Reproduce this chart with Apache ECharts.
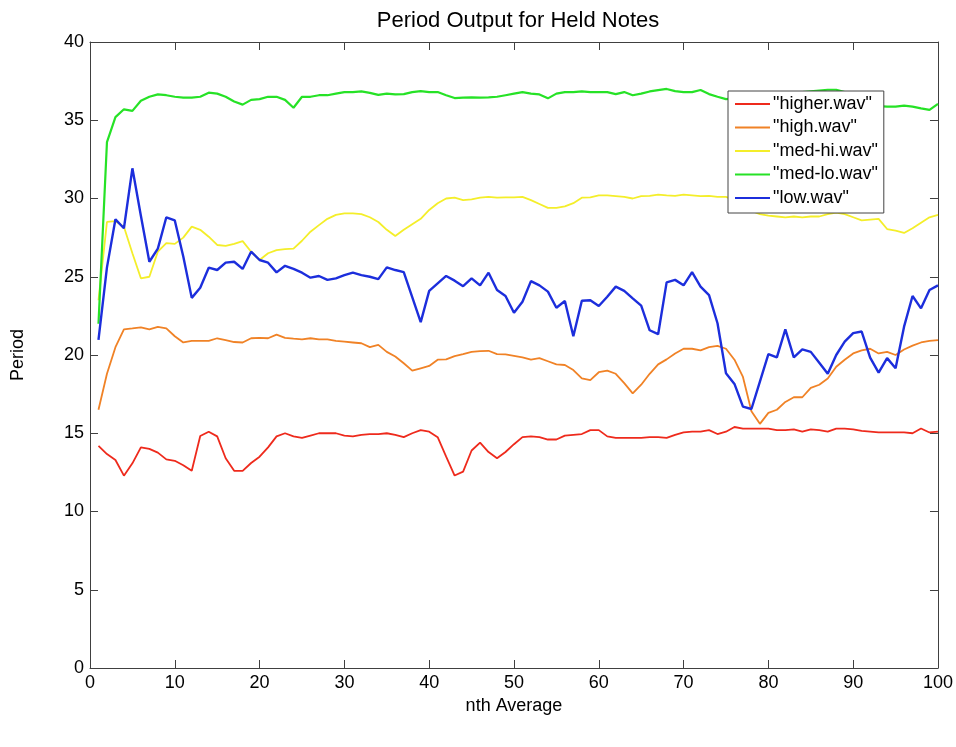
<!DOCTYPE html>
<html>
<head>
<meta charset="utf-8">
<script src="https://cdn.jsdelivr.net/npm/echarts@6/dist/echarts.min.js"></script>
<style>
html,body{margin:0;padding:0;background:#fff;}
#chart{width:956px;height:747px;}
</style>
</head>
<body>
<div id="chart"></div>
<script>
var xIndex = [1,2,3,4,5,6,7,8,9,10,11,12,13,14,15,16,17,18,19,20,21,22,23,24,25,26,27,28,29,30,31,32,33,34,35,36,37,38,39,40,41,42,43,44,45,46,47,48,49,50,51,52,53,54,55,56,57,58,59,60,61,62,63,64,65,66,67,68,69,70,71,72,73,74,75,76,77,78,79,80,81,82,83,84,85,86,87,88,89,90,91,92,93,94,95,96,97,98,99,100];

var higher = [14.19,13.67,13.29,12.29,13.08,14.1,14.0,13.76,13.33,13.24,12.96,12.6,14.82,15.1,14.8,13.4,12.6,12.6,13.1,13.5,14.1,14.8,15.0,14.8,14.7,14.85,15.0,15.0,15.0,14.85,14.8,14.9,14.95,14.95,15.0,14.9,14.75,15.0,15.2,15.1,14.75,13.5,12.3,12.55,13.9,14.4,13.8,13.4,13.8,14.3,14.75,14.8,14.75,14.6,14.6,14.85,14.9,14.95,15.2,15.2,14.8,14.7,14.7,14.7,14.7,14.75,14.75,14.7,14.9,15.05,15.1,15.1,15.2,14.95,15.1,15.4,15.3,15.3,15.3,15.3,15.2,15.2,15.25,15.1,15.25,15.2,15.1,15.3,15.3,15.25,15.15,15.1,15.05,15.05,15.05,15.05,15.0,15.3,15.05,15.1];

var high = [16.5,18.8,20.5,21.64,21.7,21.77,21.64,21.8,21.7,21.2,20.8,20.9,20.9,20.9,21.07,20.95,20.83,20.8,21.07,21.1,21.07,21.3,21.1,21.04,21.0,21.07,21.0,21.0,20.9,20.85,20.8,20.75,20.5,20.65,20.2,19.9,19.47,19.0,19.15,19.3,19.7,19.72,19.93,20.06,20.2,20.25,20.27,20.06,20.04,19.95,19.85,19.7,19.8,19.6,19.4,19.36,19.04,18.5,18.4,18.9,19.0,18.8,18.2,17.55,18.1,18.8,19.4,19.72,20.1,20.4,20.4,20.3,20.5,20.58,20.4,19.7,18.6,16.4,15.6,16.3,16.5,17.0,17.3,17.3,17.9,18.1,18.5,19.25,19.7,20.1,20.3,20.4,20.1,20.2,20.0,20.35,20.6,20.8,20.9,20.95];

var medHi = [23.5,28.5,28.55,28.2,26.5,24.9,25.0,26.6,27.15,27.1,27.5,28.2,28.0,27.56,27.03,26.97,27.1,27.28,26.6,26.07,26.5,26.7,26.77,26.8,27.3,27.88,28.3,28.7,28.95,29.05,29.05,29.0,28.8,28.5,28.0,27.6,28.0,28.35,28.7,29.27,29.7,30.0,30.05,29.9,29.95,30.05,30.1,30.05,30.07,30.07,30.1,29.9,29.65,29.4,29.4,29.5,29.7,30.05,30.07,30.2,30.2,30.15,30.1,30.0,30.15,30.17,30.25,30.2,30.17,30.25,30.2,30.15,30.17,30.1,30.1,29.9,29.6,29.2,29.0,28.9,28.85,28.8,28.85,28.8,28.85,28.85,29.0,29.1,29.0,28.8,28.6,28.65,28.7,28.05,27.95,27.8,28.1,28.45,28.8,28.95];

var medLo = [22.0,33.6,35.2,35.7,35.6,36.25,36.5,36.65,36.6,36.5,36.45,36.45,36.5,36.76,36.7,36.5,36.2,36.0,36.3,36.35,36.5,36.5,36.3,35.8,36.5,36.5,36.6,36.6,36.7,36.8,36.8,36.84,36.75,36.62,36.7,36.65,36.67,36.8,36.86,36.8,36.8,36.6,36.42,36.44,36.46,36.44,36.46,36.5,36.6,36.7,36.8,36.7,36.65,36.4,36.7,36.8,36.8,36.85,36.8,36.8,36.8,36.67,36.8,36.6,36.7,36.84,36.93,37.0,36.86,36.8,36.8,36.93,36.67,36.5,36.35,36.4,36.5,36.6,36.6,36.7,36.7,36.7,36.75,36.8,36.85,36.9,36.95,36.95,36.8,36.4,36.1,35.95,35.9,35.87,35.87,35.93,35.87,35.76,35.66,36.05];

var low = [20.96,25.6,28.67,28.1,31.93,28.9,25.96,26.8,28.8,28.6,26.3,23.65,24.3,25.58,25.43,25.9,25.96,25.5,26.6,26.07,25.9,25.28,25.7,25.5,25.26,24.94,25.05,24.8,24.9,25.1,25.26,25.1,25.0,24.85,25.6,25.43,25.3,23.7,22.1,24.1,24.58,25.05,24.75,24.4,24.9,24.45,25.26,24.15,23.77,22.7,23.4,24.72,24.45,24.05,23.02,23.45,21.2,23.47,23.5,23.13,23.72,24.37,24.1,23.62,23.15,21.58,21.33,24.64,24.8,24.45,25.3,24.37,23.83,22.03,18.83,18.15,16.7,16.55,18.3,20.06,19.85,21.64,19.85,20.36,20.2,19.5,18.8,20.0,20.85,21.4,21.5,19.83,18.87,19.8,19.15,21.81,23.77,22.98,24.15,24.45];

var seriesNames = ['"higher.wav"', '"high.wav"', '"med-hi.wav"', '"med-lo.wav"', '"low.wav"'];
var seriesData = [higher, high, medHi, medLo, low];
var seriesColors = ['#ee2a1c', '#f08226', '#f4ee2a', '#26e226', '#1c2edc'];
var seriesWidths = [1.8, 1.8, 1.8, 2.2, 2.4];

var xTicks = {min: 0, max: 100, interval: 10};
var yTicks = {min: 0, max: 40, interval: 5};

function pairs(arr) {
  return arr.map(function (v, i) { return [xIndex[i], v]; });
}

var FONT = 'Liberation Sans, Arial, sans-serif';
var axisColor = '#404040';

function baseAxis(t, extra) {
  var a = {
    type: 'value',
    min: t.min, max: t.max, interval: t.interval,
    axisLine: {show: true, onZero: false, lineStyle: {color: axisColor, width: 1}},
    axisTick: {show: true, inside: true, length: 8, lineStyle: {color: axisColor, width: 1}},
    splitLine: {show: false},
    axisLabel: {show: true, color: '#000', fontSize: 18, fontFamily: FONT, margin: 6}
  };
  for (var k in extra) a[k] = extra[k];
  return a;
}

var chart = echarts.init(document.getElementById('chart'), null, {renderer: 'canvas'});
chart.setOption({
  backgroundColor: '#fff',
  animation: false,
  title: {
    text: 'Period Output for Held Notes',
    left: 513,
    textAlign: 'center',
    top: 5,
    textStyle: {fontSize: 22, fontWeight: 'normal', color: '#000', fontFamily: FONT}
  },
  grid: {left: 90, right: 18, top: 42, bottom: 79, containLabel: false},
  legend: {
    orient: 'vertical',
    left: 728,
    top: 91,
    padding: [4, 6, 6, 7],
    itemGap: 5.5,
    itemWidth: 35,
    itemHeight: 2,
    icon: 'rect',
    backgroundColor: '#fff',
    borderColor: '#444',
    borderWidth: 1,
    borderRadius: 0,
    textStyle: {fontSize: 18, color: '#000', fontFamily: FONT, padding: [0, 0, 0, -2]},
    data: seriesNames
  },
  xAxis: [
    baseAxis(xTicks, {
      position: 'bottom',
      name: 'nth Average', nameLocation: 'middle', nameGap: 28,
      nameTextStyle: {fontSize: 18, color: '#000', fontFamily: FONT}
    }),
    baseAxis(xTicks, {position: 'top', axisLabel: {show: false}})
  ],
  yAxis: [
    baseAxis(yTicks, {
      position: 'left',
      name: 'Period', nameLocation: 'middle', nameGap: 63, nameRotate: 90,
      nameTextStyle: {fontSize: 18, color: '#000', fontFamily: FONT}
    }),
    baseAxis(yTicks, {position: 'right', axisLabel: {show: false}})
  ],
  series: seriesNames.map(function (name, i) {
    return {
      name: name,
      type: 'line',
      xAxisIndex: 0,
      yAxisIndex: 0,
      data: pairs(seriesData[i]),
      symbol: 'none',
      smooth: false,
      color: seriesColors[i],
      lineStyle: {color: seriesColors[i], width: seriesWidths[i]},
      emphasis: {disabled: true}
    };
  })
});
</script>
</body>
</html>
